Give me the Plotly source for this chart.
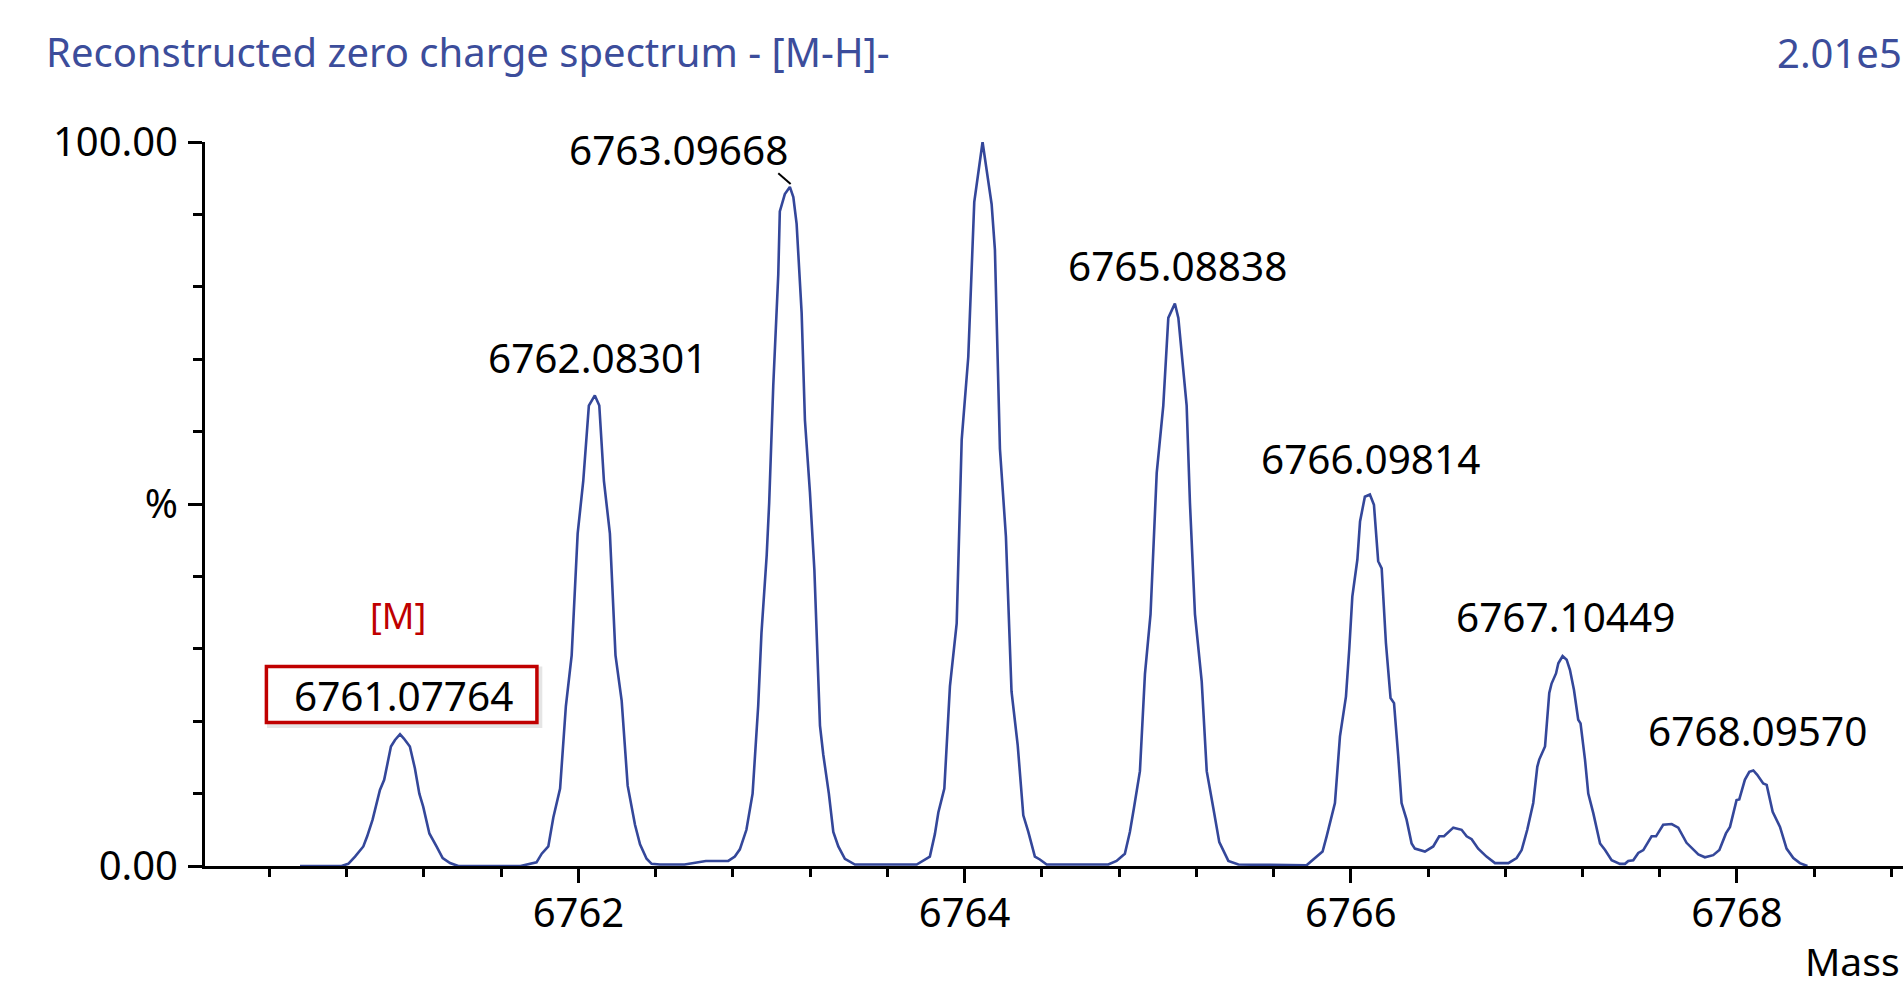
import plotly.graph_objects as go

# ---------------- data ----------------
mass = [
    6760.558, 6760.773, 6760.808, 6760.843, 6760.886, 6760.906, 6760.934, 6760.951, 6760.972, 6760.994,
    6761.029, 6761.050, 6761.076, 6761.096, 6761.127, 6761.153, 6761.176, 6761.196, 6761.228, 6761.265,
    6761.297, 6761.335, 6761.378,
    6761.700, 6761.740, 6761.783, 6761.810, 6761.844, 6761.870, 6761.905, 6761.935, 6761.965, 6761.996,
    6762.025, 6762.054, 6762.085, 6762.108, 6762.132, 6762.163, 6762.192, 6762.224, 6762.255, 6762.293,
    6762.319, 6762.353, 6762.379, 6762.422,
    6762.550, 6762.660, 6762.776, 6762.810, 6762.836, 6762.870, 6762.902, 6762.931, 6762.948, 6762.975,
    6762.988, 6763.009, 6763.035, 6763.043, 6763.069, 6763.095, 6763.113, 6763.130, 6763.156, 6763.173,
    6763.199, 6763.222, 6763.251, 6763.268, 6763.297, 6763.320, 6763.346, 6763.380, 6763.432,
    6763.752, 6763.786, 6763.820, 6763.846, 6763.864, 6763.895, 6763.924, 6763.959, 6763.985, 6764.019,
    6764.050, 6764.093, 6764.140, 6764.157, 6764.183, 6764.214, 6764.243, 6764.275, 6764.304, 6764.330,
    6764.364, 6764.390, 6764.425,
    6764.744, 6764.787, 6764.830, 6764.856, 6764.877, 6764.908, 6764.934, 6764.963, 6764.995, 6765.029,
    6765.055, 6765.089, 6765.107, 6765.150, 6765.167, 6765.193, 6765.228, 6765.254, 6765.288, 6765.319,
    6765.366, 6765.418,
    6765.771, 6765.814, 6765.854, 6765.875, 6765.901, 6765.918, 6765.944, 6765.975, 6765.992, 6766.008,
    6766.034, 6766.048, 6766.073, 6766.099, 6766.120, 6766.142, 6766.160, 6766.182, 6766.206, 6766.224,
    6766.246, 6766.263, 6766.289, 6766.315, 6766.332, 6766.384, 6766.427, 6766.458, 6766.483, 6766.531,
    6766.574, 6766.600, 6766.626, 6766.660, 6766.703, 6766.747, 6766.816, 6766.859, 6766.885, 6766.914,
    6766.945, 6766.966, 6766.976, 6767.006, 6767.028, 6767.040, 6767.063, 6767.075, 6767.097, 6767.118,
    6767.135, 6767.156, 6767.178, 6767.190, 6767.213, 6767.230, 6767.256, 6767.291, 6767.317, 6767.351,
    6767.394, 6767.420, 6767.437, 6767.463, 6767.489, 6767.515, 6767.558, 6767.581, 6767.618, 6767.662,
    6767.696, 6767.739, 6767.800, 6767.834, 6767.877, 6767.909, 6767.943, 6767.964, 6767.998, 6768.012,
    6768.041, 6768.064, 6768.085, 6768.105, 6768.136, 6768.154, 6768.185, 6768.223, 6768.257, 6768.292,
    6768.326, 6768.365,
]
intensity = [
    0.0, 0.0, 0.3, 1.3, 2.7, 4.1, 6.4, 8.2, 10.5, 11.9,
    16.5, 17.4, 18.2, 17.6, 16.5, 13.5, 10.0, 8.2, 4.5, 2.7,
    1.1, 0.4, 0.0,
    0.0, 0.2, 0.5, 1.7, 2.7, 6.7, 10.7, 22.1, 29.1, 45.9,
    53.2, 63.6, 65.0, 63.6, 53.2, 45.9, 29.1, 22.8, 11.1, 5.7,
    3.0, 1.0, 0.3, 0.2,
    0.2, 0.7, 0.7, 1.3, 2.3, 5.0, 10.0, 22.1, 32.2, 42.9,
    50.2, 66.3, 81.7, 90.4, 92.8, 93.8, 92.4, 88.7, 76.4, 61.6,
    51.6, 40.9, 19.4, 15.4, 10.0, 4.7, 2.7, 1.0, 0.2,
    0.2, 0.8, 1.3, 4.4, 7.4, 10.7, 24.8, 33.5, 58.9, 70.3,
    91.7, 100.0, 91.4, 85.1, 57.6, 45.5, 24.1, 16.7, 7.0, 4.7,
    1.3, 0.9, 0.2,
    0.2, 0.7, 1.7, 4.7, 8.0, 13.1, 26.5, 34.8, 54.3, 63.6,
    75.7, 77.7, 75.7, 63.6, 50.2, 34.8, 25.5, 13.1, 8.0, 3.3,
    0.7, 0.2,
    0.1, 1.1, 2.0, 4.1, 7.0, 8.7, 17.9, 23.4, 29.9, 37.2,
    42.3, 47.6, 51.0, 51.3, 49.9, 42.1, 41.1, 30.8, 23.2, 22.5,
    15.1, 8.7, 6.4, 3.1, 2.4, 2.0, 2.7, 4.1, 4.1, 5.3,
    5.0, 4.1, 3.7, 2.4, 1.3, 0.4, 0.4, 1.1, 2.2, 5.0,
    8.7, 13.7, 14.7, 16.5, 23.9, 25.2, 26.6, 28.0, 29.0, 28.5,
    27.1, 24.3, 20.2, 19.7, 14.7, 10.0, 7.3, 3.1, 2.2, 0.8,
    0.3, 0.3, 0.7, 0.8, 1.8, 2.2, 4.1, 4.1, 5.7, 5.8,
    5.3, 3.2, 1.6, 1.2, 1.5, 2.2, 4.5, 5.4, 9.1, 9.2,
    11.9, 13.0, 13.2, 12.6, 11.4, 11.2, 7.5, 5.4, 2.4, 1.1,
    0.4, 0.0,
]

# peak labels: text, label position (mass, %)
peak_labels = ["6762.08301", "6763.09668", "6764.09668", "6765.08838",
               "6766.09814", "6767.10449", "6768.09570"]
peak_label_x = [6762.098, 6762.520, 6764.111, 6765.105, 6766.103, 6767.113, 6768.105]
peak_label_y = [70.3, 99.0, 105.3, 83.0, 56.3, 34.4, 18.7]

mono_label = "6761.07764"
mono_tag = "[M]"

x_major_ticks = [6762, 6764, 6766, 6768]
x_major_text = ["6762", "6764", "6766", "6768"]
x_minor_ticks = [6760.4, 6760.8, 6761.2, 6761.6, 6762.4, 6762.8, 6763.2, 6763.6,
                 6764.4, 6764.8, 6765.2, 6765.6, 6766.4, 6766.8, 6767.2, 6767.6,
                 6768.4, 6768.8]
y_major_ticks = [0, 50, 100]
y_major_text = ["0.00", "%", "100.00"]
y_minor_ticks = [10, 20, 30, 40, 60, 70, 80, 90]

title_text = "Reconstructed zero charge spectrum - [M-H]-"
scale_text = "2.01e5"
x_title = "Mass"

# ---------------- style ----------------
FONT = "Noto Sans"
BLUE_TXT = "#3c4d9b"
LINE_BLUE = "#34479a"
RED = "#c00000"

fig = go.Figure()
fig.add_trace(go.Scatter(x=mass, y=intensity, mode="lines",
                         line=dict(color=LINE_BLUE, width=2.6),
                         hoverinfo="x+y", cliponaxis=False))

annotations = []
for t, lx, ly in zip(peak_labels, peak_label_x, peak_label_y):
    annotations.append(dict(x=lx, y=ly, xref="x", yref="y", text=t, showarrow=False,
                            font=dict(family=FONT, size=40.5, color="black"),
                            xanchor="center", yanchor="middle"))
annotations.append(dict(x=6761.096, y=23.6, xref="x", yref="y", text=mono_label, showarrow=False,
                        font=dict(family=FONT, size=40.5, color="black"),
                        xanchor="center", yanchor="middle"))
annotations.append(dict(x=6761.068, y=34.6, xref="x", yref="y", text=mono_tag, showarrow=False,
                        font=dict(family=FONT, size=36, color=RED),
                        xanchor="center", yanchor="middle"))
annotations.append(dict(x=1.0, y=1.1237, xref="paper", yref="paper", text=scale_text, showarrow=False,
                        font=dict(family=FONT, size=40, color=BLUE_TXT),
                        xanchor="right", yanchor="middle", borderpad=0))
annotations.append(dict(x=1.0, y=-0.138, xref="paper", yref="paper", text=x_title, showarrow=False,
                        font=dict(family=FONT, size=39, color="black"),
                        xanchor="right", yanchor="middle", borderpad=0, xshift=-2, yshift=5))

shapes = [
    # soft shadow of the [M] box
    dict(type="rect", xref="x", yref="y", x0=6760.40, x1=6761.80, y0=19.4, y1=27.2,
         line=dict(color="rgba(0,0,0,0.10)", width=5), fillcolor="rgba(0,0,0,0)", layer="below"),
    # red box around the monoisotopic mass
    dict(type="rect", xref="x", yref="y", x0=6760.384, x1=6761.785, y0=19.83, y1=27.57,
         line=dict(color=RED, width=3.5), fillcolor="white", layer="below"),
    # leader line of the 6763 label
    dict(type="line", xref="x", yref="y", x0=6763.035, y0=95.7, x1=6763.099, y1=94.2,
         line=dict(color="black", width=2)),
]

fig.update_layout(
    width=1903, height=988, autosize=False,
    margin=dict(l=205, r=0, t=142, b=122, pad=0),
    paper_bgcolor="white", plot_bgcolor="white",
    showlegend=False,
    font=dict(family=FONT, color="black"),
    title=dict(text=title_text, x=46 / 1903, xref="container", xanchor="left",
               y=1 - 53 / 988, yref="container", yanchor="middle",
               font=dict(family=FONT, size=40, color=BLUE_TXT)),
    annotations=annotations,
    shapes=shapes,
)

fig.update_xaxes(range=[6760.066, 6768.86], showgrid=False, zeroline=False,
                 showline=True, linecolor="black", linewidth=3,
                 tickmode="array", tickvals=x_major_ticks, ticktext=x_major_text,
                 ticks="outside", ticklen=14, tickwidth=2.5, tickcolor="black",
                 ticklabelstandoff=-4,
                 tickfont=dict(family=FONT, size=40, color="black"),
                 minor=dict(tickvals=x_minor_ticks, ticks="outside", ticklen=8,
                            tickwidth=2.5, tickcolor="black", showgrid=False))
fig.update_yaxes(range=[0, 100], showgrid=False, zeroline=False,
                 showline=True, linecolor="black", linewidth=3,
                 tickmode="array", tickvals=y_major_ticks, ticktext=y_major_text,
                 ticks="outside", ticklen=14, tickwidth=2.5, tickcolor="black",
                 ticklabelstandoff=2,
                 tickfont=dict(family=FONT, size=40, color="black"),
                 minor=dict(tickvals=y_minor_ticks, ticks="outside", ticklen=9,
                            tickwidth=2.5, tickcolor="black", showgrid=False))

fig.write_html("out.html", config={"displayModeBar": False},
               post_script="document.body.style.margin='0';document.body.style.overflow='hidden';")
